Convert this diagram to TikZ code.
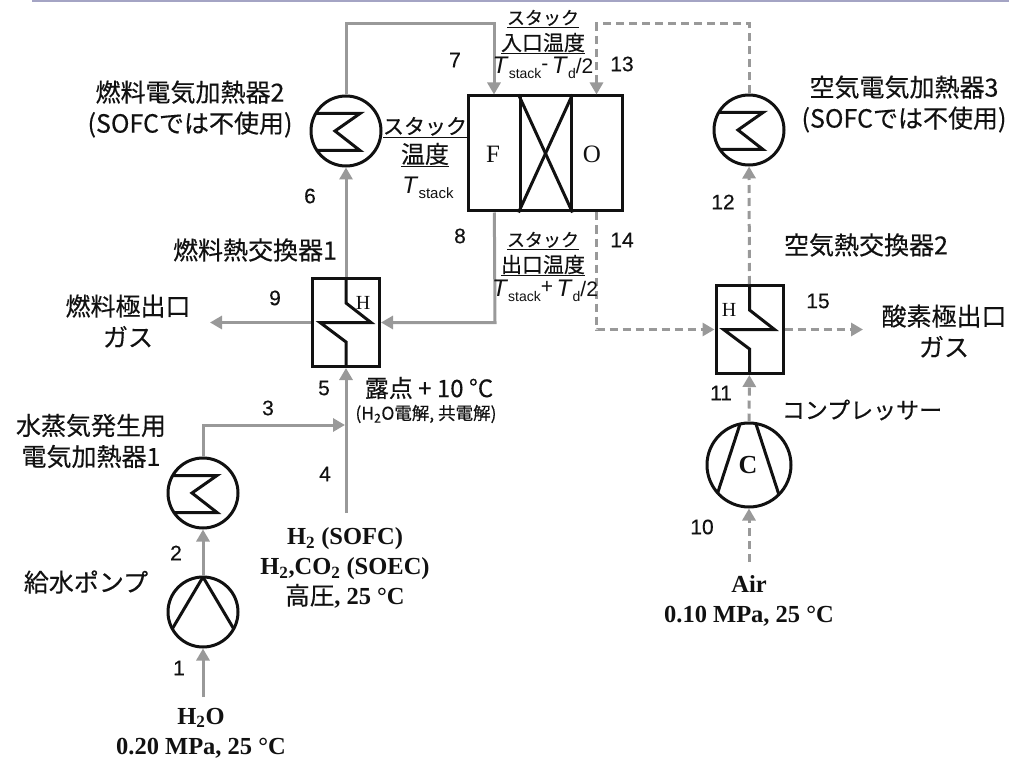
\documentclass[tikz,border=0pt]{standalone}
\usepackage{fontspec}
\usetikzlibrary{arrows.meta, calc, positioning}
\setmainfont{Liberation Serif}
\setsansfont{Liberation Sans}
\newfontfamily\jpfont[FakeBold=0.35]{Noto Sans CJK JP}
\newfontfamily\numfont[FakeBold=0.35]{Liberation Sans}
\definecolor{Flow}{HTML}{999999}
\definecolor{Band}{HTML}{A4A4C4}
\definecolor{Ink} {HTML}{111111}
\newcommand{\Tst}[1][15]{{\fontsize{24}{24}\selectfont\textit{T}}\raisebox{-0.22em}{\fontsize{#1}{#1}\selectfont stack}}
\newcommand{\Td}{{\fontsize{24}{24}\selectfont\textit{T}}\raisebox{-0.22em}{\fontsize{14}{14}\selectfont d}/2}
\newcommand{\sfs}{\fontsize{18}{18}\selectfont}
\tikzset{
  flow/.style={
    -{Triangle[length=12pt,width=13pt]},
    line width=3pt, color=Flow,
  },
  flowd/.style={
    flow, dash pattern=on 8pt off 5pt,
  },
  jp/.style={
    font=\jpfont\fontsize{25}{31}\selectfont, text=Ink,
    align=center, inner sep=0pt,
  },
  jps/.style={
    font=\jpfont\fontsize{21}{26}\selectfont, text=Ink,
    align=center, inner sep=0pt,
  },
  num/.style={
    font=\numfont\fontsize{21}{21}\selectfont, text=Ink, inner sep=0pt,
  },
  ser/.style={
    font=\bfseries\fontsize{24.5}{30}\selectfont, text=Ink,
    align=center, inner sep=0pt,
  },
  tlbl/.style={
    font=\sffamily\fontsize{21}{21}\selectfont, text=Ink, inner sep=0pt,
  },
  letr/.style={
    font=\fontsize{20}{20}\selectfont, text=Ink, inner sep=0pt,
  },
  % heater circle with coil
  heater/.style={
    circle, draw=Ink, line width=3pt, minimum size=70pt, inner sep=0pt,
    path picture={
      \draw[line width=3pt, Ink, shift={(path picture bounding box.center)}]
        (-40,-17.5) -- (14,-17.5) -- (-11,0) -- (14,19.5) -- (-40,19.5);
    },
  },
  pumpc/.style={
    circle, draw=Ink, line width=3pt, minimum size=70pt, inner sep=0pt,
    path picture={
      \draw[line width=3pt, Ink, shift={(path picture bounding box.center)}]
        (-32,19) -- (0,-35) -- (32,19);
    },
  },
  compc/.style={
    circle, draw=Ink, line width=3pt, minimum size=84pt, inner sep=0pt,
    path picture={
      \draw[line width=3pt, Ink, shift={(path picture bounding box.center)}]
        (-8,-44) -- (-33,33) (6,-44) -- (31,33);
    },
  },
  % heat exchanger box, #1 = 1 or -1 for the side of the zigzag
  hxbox/.style={
    rectangle, draw=Ink, line width=3pt, inner sep=0pt,
    minimum width=67pt, minimum height=88pt,
    path picture={
      \draw[line width=3pt, Ink, shift={(path picture bounding box.center)}, xscale=#1]
        (0,-46) -- (0,-19.5) -- (25,0) -- (-26,0) -- (0,19.5) -- (0,46);
    },
  },
  cell/.style={
    rectangle, draw=Ink, line width=3pt, inner sep=0pt, minimum height=115pt,
  },
}
\begin{document}
\begin{tikzpicture}[x=1pt,y=-1pt]
    \useasboundingbox (0,0) rectangle (1009,762);
    \fill[Band] (32,0) rectangle (1009,1.8);

    % stack
    \node[cell, minimum width=52pt] (stF) at (494,153.5) {};
    \node[cell, minimum width=51pt] (stX) at (545.5,153.5) {};
    \node[cell, minimum width=51pt] (stO) at (596.5,153.5) {};
    \draw[line width=3pt, Ink] (stX.north west) -- (stX.south east);
    \draw[line width=3pt, Ink] (stX.south west) -- (stX.north east);
    \node[letr, font=\fontsize{25}{25}\selectfont] (lblF) at (493,154) {F};
    \node[letr, font=\fontsize{25}{25}\selectfont] (lblO) at (592,154) {O};

    % equipment
    \node[heater] (ht2) at (346,131) {};
    \node[heater] (ht3) at (749,130) {};
    \node[heater] (ht1) at (203,493) {};
    \node[pumpc]  (pmp) at (203,612) {};
    \node[compc]  (cmp) at (749,465) {};
    \node[hxbox=1]  (hx1) at (346,322.5) {};
    \node[hxbox=-1] (hx2) at (749.5,329.5) {};
    \node[letr] (lblH1) at (363,303) {H};
    \node[letr] (lblH2) at (729,310) {H};
    \node[letr, font=\bfseries\fontsize{26}{26}\selectfont] (lblC) at (748,465) {C};

    % free ends
    \coordinate (c7)  at (346,24);
    \coordinate (c13) at (749,24);
    \coordinate (c8)  at (495,322.5);
    \coordinate (c14) at (596.5,329.5);
    \coordinate (c3)  at (203,425);
    \coordinate (j3)  at (345,425);
    \coordinate (inA) at (346,513);
    \coordinate (inW) at (203,697);
    \coordinate (inC) at (749,562);
    \coordinate (out9)  at (210,322.5);
    \coordinate (out15) at (863,329.5);

    % fuel side
    \draw[flow] (inW) -- (pmp);
    \draw[flow] (pmp) -- (ht1);
    \draw[flow] (ht1) -- (c3) -- (j3);
    \draw[flow] (inA) -- (hx1);
    \draw[flow] (hx1) -- (ht2);
    \draw[flow] (ht2) -- (c7) -| (stF);
    \draw[flow] (stF) -- (c8) -- (hx1);
    \draw[flow] (hx1) -- (out9);

    % air side
    \draw[flowd] (inC) -- (cmp);
    \draw[flowd] (cmp) -- (hx2);
    \draw[flowd] (hx2) -- (ht3);
    \draw[flowd] (ht3) -- (c13) -| (stO);
    \draw[flowd] (stO) -- (c14) -- (hx2);
    \draw[flowd] (hx2) -- (out15);

    % stream numbers
    \node[num] (n1)  at (179,668) {1};
    \node[num] (n2)  at (176,553) {2};
    \node[num] (n3)  at (268,408) {3};
    \node[num] (n4)  at (325,474) {4};
    \node[num] (n5)  at (324,388) {5};
    \node[num] (n6)  at (310,196) {6};
    \node[num] (n7)  at (455,60)  {7};
    \node[num] (n8)  at (460,236) {8};
    \node[num] (n9)  at (275,298) {9};
    \node[num] (n10) at (702,527) {10};
    \node[num] (n11) at (721,393) {11};
    \node[num] (n12) at (723,202) {12};
    \node[num] (n13) at (622,64)  {13};
    \node[num] (n14) at (622,240) {14};
    \node[num] (n15) at (818,301) {15};

    % equipment labels
    \node[jp] (tHt2) at (190,109) {燃料電気加熱器2\\(SOFCでは不使用)};
    \node[jp] (tHt3) at (904,104) {空気電気加熱器3\\(SOFCでは不使用)};
    \node[jp] (tHx1) at (255,250) {燃料熱交換器1};
    \node[jp] (tHx2) at (866,245) {空気熱交換器2};
    \node[jp] (tOutF) at (128,321) {燃料極出口\\ガス};
    \node[jp] (tOutO) at (944,331) {酸素極出口\\ガス};
    \node[jp] (tHt1) at (91,441) {水蒸気発生用\\電気加熱器1};
    \node[jp] (tPmp) at (86,582) {給水ポンプ};
    \node[jp, font=\jpfont\fontsize{23}{23}\selectfont] (tCmp) at (862,410) {コンプレッサー};
    \node[jp, font=\jpfont\fontsize{24}{24}\selectfont] (tDew) at (429,388) {露点\ +\ 10 °C};
    \node[jp, font=\jpfont\fontsize{17.5}{17.5}\selectfont] (tDewB) at (426,414)
          {(H\textsubscript{2}O電解, 共電解)};

    % stack temperatures
    \node[jps] (tIn) at (543,32) {\underline{\sfs スタック}\\\underline{入口温度}};
    \node[tlbl] (tInT) at (543,68) {\Tst[14]\raisebox{0.15em}{-}\,\Td};
    \node[jps, font=\jpfont\fontsize{21}{29}\selectfont] (tSt) at (425,142) {\underline{スタック}\\\underline{\fontsize{24}{24}\selectfont 温度}};
    \node[tlbl] (tStT) at (428,188) {\Tst};
    \node[jps] (tOut) at (543,254) {\underline{\sfs スタック}\\\underline{出口温度}};
    \node[tlbl] (tOutT) at (545,291) {\Tst[14]\raisebox{0.15em}{+}\,\Td};

    % feeds
    \node[ser] (tFeedW) at (201,733) {H\textsubscript{2}O\\0.20 MPa, 25 °C};
    \node[ser] (tFeedF) at (345,568) {H\textsubscript{2} (SOFC)\\H\textsubscript{2},CO\textsubscript{2} (SOEC)\\{\jpfont\mdseries 高圧}, 25 °C};
    \node[ser] (tFeedC) at (749,601) {Air\\0.10 MPa, 25 °C};
  \end{tikzpicture}
\end{document}
